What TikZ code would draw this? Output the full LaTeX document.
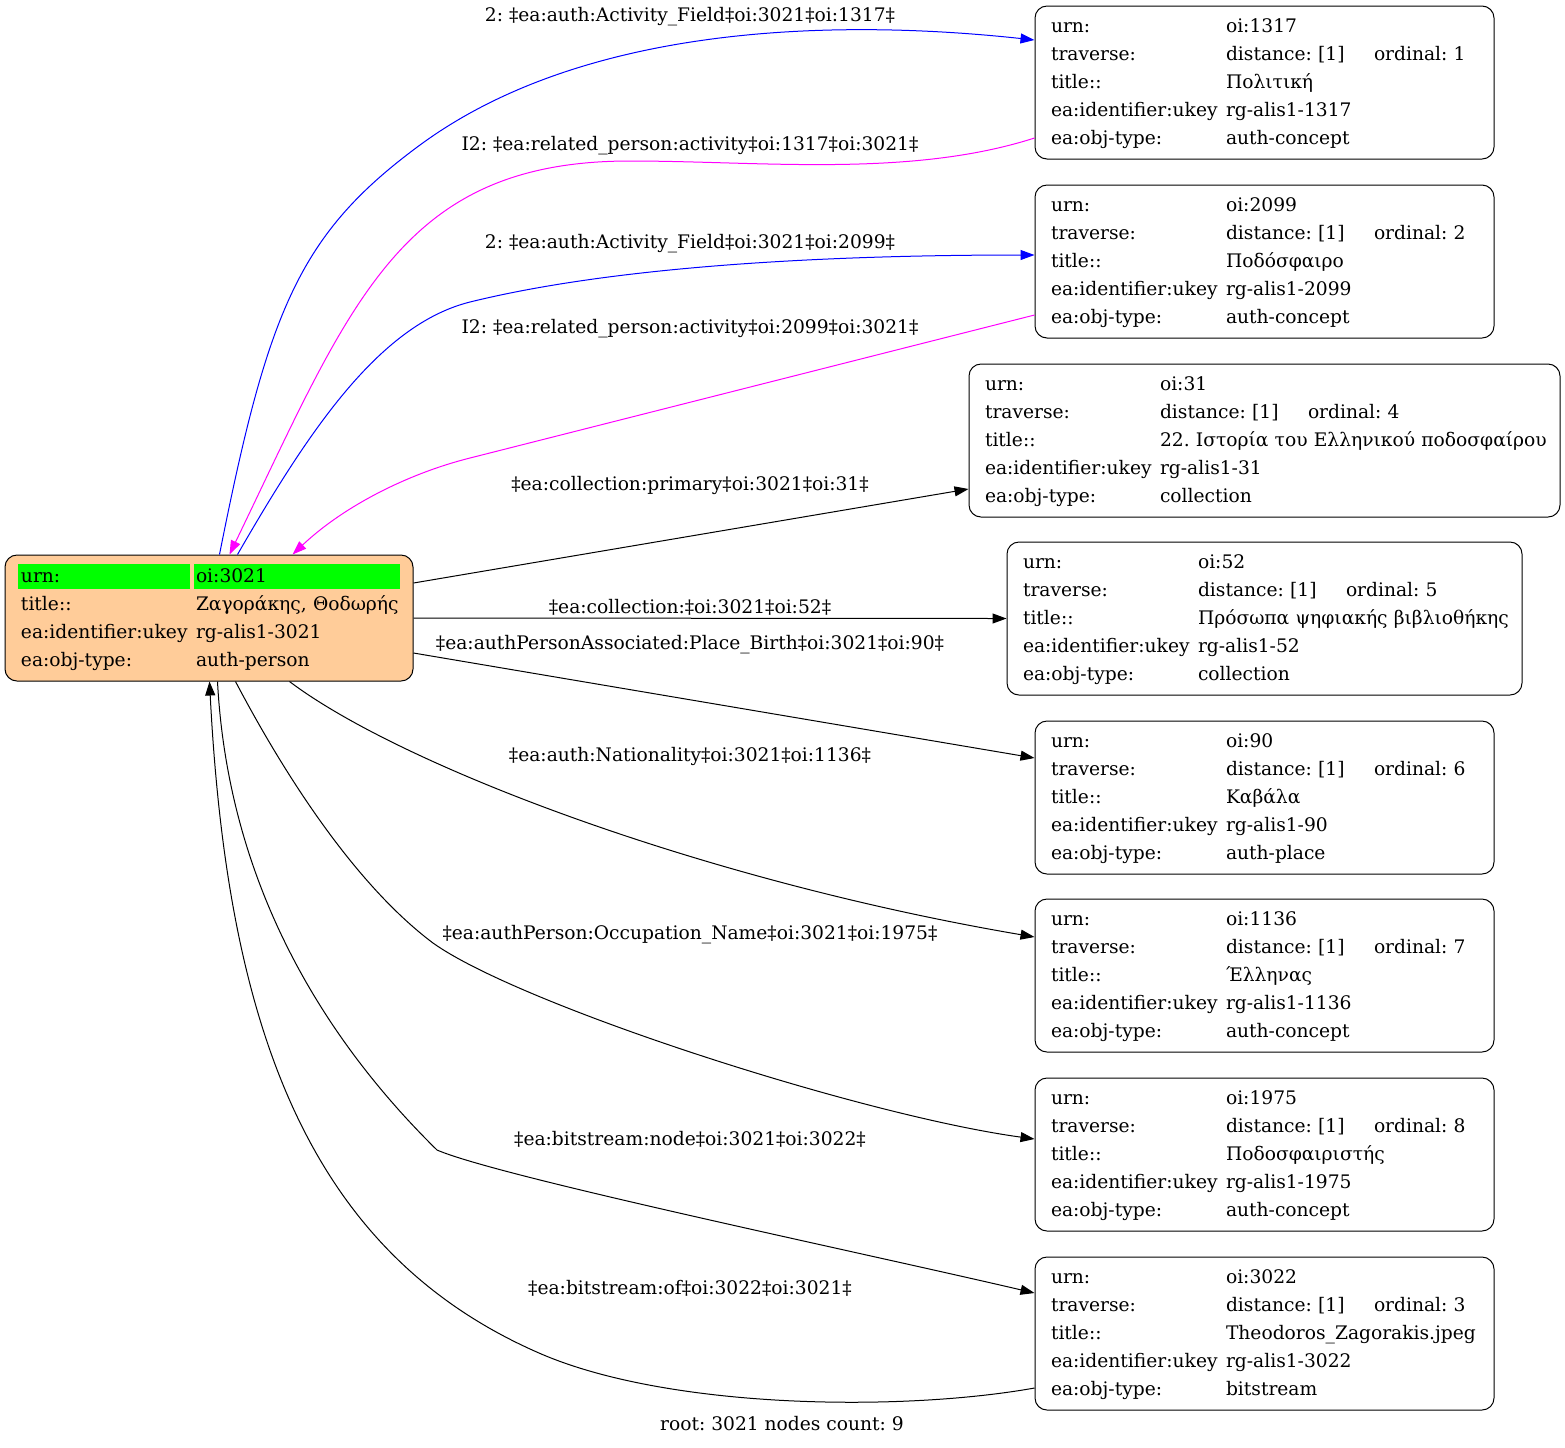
\documentclass[tikz,border=0pt]{standalone}
\usepackage{fontspec}
\setmainfont{DejaVu Serif}
\usetikzlibrary{arrows.meta,calc}
\frenchspacing

\definecolor{peach}{RGB}{255,204,153}
\definecolor{cellgreen}{RGB}{0,255,0}
\definecolor{edgeblue}{RGB}{0,0,255}
\definecolor{edgemag}{RGB}{255,0,255}

\tikzset{every picture/.style={line width=0.75pt}}
\tikzset{
  recbox/.style={draw, rounded corners=9pt, inner xsep=12pt, inner ysep=0pt, align=left, minimum height=114.75pt, font=\fontsize{14}{17}\selectfont},
  edgelbl/.style={inner sep=0pt, font=\fontsize{14}{17}\selectfont},
  tipe/.style={-{Triangle[length=10.5pt,width=7.5pt]}},
}

\newcommand{\rowstrut}{\rule[-6pt]{0pt}{21pt}}
\newcommand{\kv}[2]{\rowstrut\makebox[131.25pt][l]{#1}#2\\}
\newcommand{\trav}[1]{\makebox[111pt][l]{distance: [1]}ordinal: #1}
\newcommand{\greencell}[2]{\rlap{\hspace{-#2}\textcolor{cellgreen}{\rule[-5.25pt]{#1}{18.75pt}}}}
\newcommand{\rec}[4]{\noindent\begin{tabular}{@{}l@{}}\kv{urn:}{oi:#1}\kv{traverse:}{\trav{#2}}\kv{title::}{#3}\kv{ea:identifier:ukey}{rg-alis1-#1}\kv{ea:obj-type:}{#4}\end{tabular}}

\begin{document}
\begin{tikzpicture}[x=0.75pt,y=0.75pt,yscale=-1,xscale=1]
\useasboundingbox (0,0) rectangle (1565,1447);

%Shape: Root Record
\node[recbox, fill=peach, text width=282pt, minimum height=94.5pt] (root) at (209,618) {\noindent\begin{tabular}{@{}l@{}}\rowstrut\greencell{129pt}{2.25pt}\makebox[131.25pt][l]{urn:}\greencell{154.5pt}{1.5pt}oi:3021\\\kv{title::}{Ζαγοράκης, Θοδωρής}\kv{ea:identifier:ukey}{rg-alis1-3021}\kv{ea:obj-type:}{auth-person}\end{tabular}};
%Shape: Records
\node[recbox, text width=320.25pt] (n1317) at (1264.5,82.5) {\rec{1317}{1}{Πολιτική}{auth-concept}};
\node[recbox, text width=320.25pt] (n2099) at (1264.5,261.5) {\rec{2099}{2}{Ποδόσφαιρο}{auth-concept}};
\node[recbox, text width=419.25pt] (n31) at (1264.5,440.5) {\rec{31}{4}{22. Ιστορία του Ελληνικού ποδοσφαίρου}{collection}};
\node[recbox, text width=362.25pt] (n52) at (1264.5,618.5) {\rec{52}{5}{Πρόσωπα ψηφιακής βιβλιοθήκης}{collection}};
\node[recbox, text width=320.25pt] (n90) at (1264.5,797.5) {\rec{90}{6}{Καβάλα}{auth-place}};
\node[recbox, text width=320.25pt] (n1136) at (1264.5,975.5) {\rec{1136}{7}{Έλληνας}{auth-concept}};
\node[recbox, text width=320.25pt] (n1975) at (1264.5,1154.5) {\rec{1975}{8}{Ποδοσφαιριστής}{auth-concept}};
\node[recbox, text width=320.25pt] (n3022) at (1264.5,1333.5) {\rec{3022}{3}{Theodoros\_Zagorakis.jpeg}{bitstream}};

%Curve Lines: activity fields and their inverses
\draw[edgeblue, tipe] ($(root.north west)+(215,0)$) .. controls (268,310) and (299,234) .. (420,145) .. controls (590,20) and (850,20) .. ($(n1317.west)+(0,-42.5)$);
\draw[edgemag, tipe] ($(n1317.west)+(0,55.5)$) .. controls (910,178) and (760,161) .. (630,161) .. controls (400,161) and (351,303) .. ($(root.north west)+(225,0)$);
\draw[edgeblue, tipe] ($(root.north west)+(233,0)$) .. controls (307,434) and (378,325) .. (470,302) .. controls (620,265) and (835,255) .. ($(n2099.west)+(0,-6.5)$);
\draw[edgemag, tipe] ($(n2099.west)+(0,53.5)$) -- (470,458) .. controls (410,473) and (345,505) .. ($(root.north west)+(288,0)$);

%Straight Lines
\draw[tipe] ($(root.east)+(0,-35)$) -- ($(n31.west)+(0,48.5)$);
\draw[tipe] (root.east) -- (n52.west);
\draw[tipe] ($(root.east)+(0,35)$) -- ($(n90.west)+(0,-39.5)$);

%Curve Lines: lower edges
\draw[tipe] ($(root.south west)+(285,0)$) .. controls (400,765) and (700,880) .. ($(n1136.west)+(0,-38.5)$);
\draw[tipe] ($(root.south west)+(231,0)$) .. controls (282,770) and (353,883) .. (433,943) .. controls (520,1005) and (860,1115) .. ($(n1975.west)+(0,-15.5)$);
\draw[tipe] ($(root.south west)+(213,0)$) .. controls (228,880) and (320,1035) .. (437,1150) .. controls (500,1177) and (850,1250) .. ($(n3022.west)+(0,-40.5)$);
\draw[tipe] ($(n3022.west)+(0,54.5)$) .. controls (900,1412) and (667,1409) .. (539,1353) .. controls (310,1253) and (227.5,1031) .. ($(root.south west)+(205,0)$);

% Text Node
\node[edgelbl] (la1317) at (690,17) {2: ‡ea:auth:Activity\_Field‡oi:3021‡oi:1317‡};
% Text Node
\node[edgelbl] (li1317) at (690,146) {I2: ‡ea:related\_person:activity‡oi:1317‡oi:3021‡};
% Text Node
\node[edgelbl] (la2099) at (690,244) {2: ‡ea:auth:Activity\_Field‡oi:3021‡oi:2099‡};
% Text Node
\node[edgelbl] (li2099) at (690,329) {I2: ‡ea:related\_person:activity‡oi:2099‡oi:3021‡};
% Text Node
\node[edgelbl] (lc31) at (690,485) {‡ea:collection:primary‡oi:3021‡oi:31‡};
% Text Node
\node[edgelbl] (lc52) at (690,607) {‡ea:collection:‡oi:3021‡oi:52‡};
% Text Node
\node[edgelbl] (lp90) at (690,645) {‡ea:authPersonAssociated:Place\_Birth‡oi:3021‡oi:90‡};
% Text Node
\node[edgelbl] (ln1136) at (690,756) {‡ea:auth:Nationality‡oi:3021‡oi:1136‡};
% Text Node
\node[edgelbl] (lo1975) at (690,935) {‡ea:authPerson:Occupation\_Name‡oi:3021‡oi:1975‡};
% Text Node
\node[edgelbl] (lb3022) at (690,1139) {‡ea:bitstream:node‡oi:3021‡oi:3022‡};
% Text Node
\node[edgelbl] (lf3022) at (690,1288) {‡ea:bitstream:of‡oi:3022‡oi:3021‡};
% Text Node
\node[edgelbl] (footer) at (782,1424) {root: 3021 nodes count: 9};

\end{tikzpicture}
\end{document}
